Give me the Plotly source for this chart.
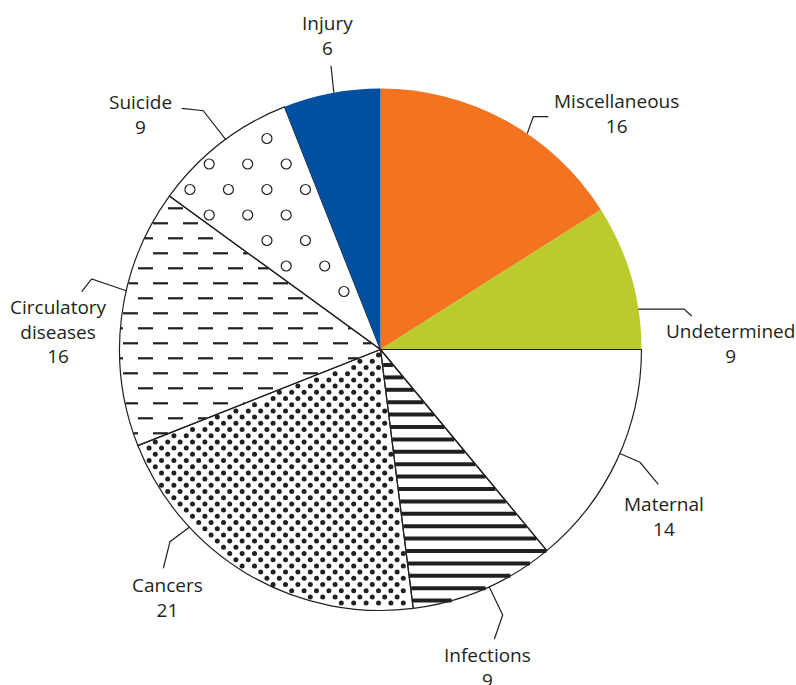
import math
import plotly.graph_objects as go

# ---------------- data ----------------
categories = ["Miscellaneous", "Undetermined", "Maternal", "Infections",
              "Cancers", "Circulatory<br>diseases", "Suicide", "Injury"]
values = [16, 9, 14, 9, 21, 16, 9, 6]

# ---------------- style ----------------
fill_colors = ["#F37321", "#BBCB2B", "#FFFFFF", "rgba(0,0,0,0)",
               "rgba(0,0,0,0)", "rgba(0,0,0,0)", "rgba(0,0,0,0)", "#0050A2"]
outline_widths = [0, 0, 1.2, 1.2, 1.2, 1.2, 1.2, 0]
fill_kind = ["solid", "solid", "solid", "hlines", "dots", "dashes", "circles", "solid"]
INK = "#231f20"
FONT = "Open Sans"
FONT_SIZE = 19

W, H = 796, 685
CX, CY, R = 380.5, 349.5, 261.0

# label anchor positions (pixels) and leader line geometry (layout only)
label_pos = [(616, 113.6), (730.2, 343.8), (664.2, 516.5), (487.2, 667.8),
             (167.8, 597.6), (58, 331), (140.5, 114.2), (327, 35.7)]
leader_angle_offset = [5.4, 7.3, -1.7, -1.2, 16.5, 5.8, 1.4, 0.5]
leader_bends = [[(533.3, 116.7), (548.3, 116.7)],
                [(684, 309), (691.7, 316)],
                [(640, 462.3), (658.3, 484.3)],
                [(502.7, 615), (494.3, 639.3)],
                [(170, 541.7), (163.3, 568.3)],
                [(91.7, 279), (81.7, 291.7)],
                [(203.3, 110.7), (181.7, 108.3)],
                [(331, 65.7)]]

# ---------------- geometry from the data ----------------
total = float(sum(values))
starts, ends = [], []
acc = 0.0
for v in values:
    starts.append(acc / total * 360.0)
    acc += v
    ends.append(acc / total * 360.0)


def polar(theta_deg, r):
    t = math.radians(theta_deg)
    return CX + r * math.sin(t), CY - r * math.cos(t)


def inside(x, y, a0, a1, margin):
    dx, dy = x - CX, CY - y
    d = math.hypot(dx, dy)
    if d > R - margin:
        return False
    th = math.degrees(math.atan2(dx, dy)) % 360.0
    if not (a0 <= th <= a1):
        return False
    if margin > 0:
        for a in (a0, a1):
            ar = math.radians(a)
            if abs(dx * math.cos(ar) - dy * math.sin(ar)) < margin:
                return False
    return True


def clip_segment(x0, x1, y, a0, a1, margin=0.0, n=60):
    xs = [x0 + (x1 - x0) * k / n for k in range(n + 1)]
    ins = [x for x in xs if inside(x, y, a0, a1, margin)]
    if len(ins) < 2:
        return None
    return min(ins), max(ins)


fig = go.Figure()

for i, kind in enumerate(fill_kind):
    a0, a1 = starts[i], ends[i]
    if kind == "hlines":
        xs, ys = [], []
        y = 365.0
        while y < CY + R:
            seg = clip_segment(CX - R, CX + R, y, a0, a1, 0.0, 800)
            if seg:
                xs += [seg[0], seg[1], None]
                ys += [y, y, None]
            y += 12.4
        fig.add_trace(go.Scatter(x=xs, y=ys, mode="lines",
                                 line=dict(color=INK, width=4),
                                 hoverinfo="skip", showlegend=False))
    elif kind == "dashes":
        xs, ys = [], []
        j = 0
        y = 253.3 - 15.0 * 12
        while y < CY + R:
            x = 3.0 + (15.0 if j % 2 else 0.0)
            while x < W:
                seg = clip_segment(x, x + 15.0, y, a0, a1, 0.0, 30)
                if seg and seg[1] - seg[0] > 0.8:
                    xs += [seg[0], seg[1], None]
                    ys += [y, y, None]
                x += 30.0
            y += 15.0
            j += 1
        fig.add_trace(go.Scatter(x=xs, y=ys, mode="lines",
                                 line=dict(color=INK, width=2.2),
                                 hoverinfo="skip", showlegend=False))
    elif kind == "dots":
        xs, ys = [], []
        j = 0
        y = CY - R
        while y < CY + R:
            x = CX - R - 20 + (6.2 if j % 2 else 0.0)
            while x < CX + R:
                if inside(x, y, a0, a1, 2.4):
                    xs.append(x)
                    ys.append(y)
                x += 12.4
            y += 6.2
            j += 1
        fig.add_trace(go.Scatter(x=xs, y=ys, mode="markers",
                                 marker=dict(color=INK, size=5, line=dict(width=0)),
                                 hoverinfo="skip", showlegend=False))
    elif kind == "circles":
        xs, ys = [], []
        for j in range(-8, 12):
            y = 164.0 + 25.5 * j
            for k in range(-8, 12):
                x = 247.7 + 38.5 * k + (19.25 if j % 2 else 0.0)
                if inside(x, y, a0, a1, 4.6):
                    xs.append(x)
                    ys.append(y)
        fig.add_trace(go.Scatter(x=xs, y=ys, mode="markers",
                                 marker=dict(symbol="circle-open", color=INK, size=10,
                                             line=dict(width=1.2, color=INK)),
                                 hoverinfo="skip", showlegend=False))

# pie itself
fig.add_trace(go.Pie(
    labels=categories, values=values, sort=False, direction="clockwise", rotation=0,
    textinfo="none", hoverinfo="skip", showlegend=False,
    marker=dict(colors=fill_colors, line=dict(color=INK, width=outline_widths)),
    domain=dict(x=[(CX - R) / W, (CX + R) / W],
                y=[(H - CY - R) / H, (H - CY + R) / H]),
))

# labels and leader lines
shapes, annotations = [], []
for i, (cat, v) in enumerate(zip(categories, values)):
    mid = (starts[i] + ends[i]) / 2.0
    ex, ey = polar(mid + leader_angle_offset[i], R)
    pts = [(ex, ey)] + leader_bends[i]
    path = "M " + " L ".join(f"{px:.2f},{py:.2f}" for px, py in pts)
    shapes.append(dict(type="path", path=path, xref="x", yref="y", layer="above",
                       line=dict(color=INK, width=1.2)))
    lx, ly = label_pos[i]
    annotations.append(dict(x=lx, y=ly, xref="x", yref="y", text=f"{cat}<br>{v}",
                            showarrow=False, xanchor="center", yanchor="middle",
                            align="center",
                            font=dict(family=FONT, size=FONT_SIZE, color=INK)))

fig.update_layout(
    width=W, height=H, margin=dict(l=0, r=0, t=0, b=0, pad=0),
    paper_bgcolor="white", plot_bgcolor="rgba(0,0,0,0)",
    xaxis=dict(range=[0, W], visible=False, fixedrange=True, domain=[0, 1]),
    yaxis=dict(range=[H, 0], visible=False, fixedrange=True, domain=[0, 1]),
    shapes=shapes, annotations=annotations, showlegend=False,
)

fig.write_html("out.html", config={"displayModeBar": False},
               post_script="document.body.style.margin='0';")
